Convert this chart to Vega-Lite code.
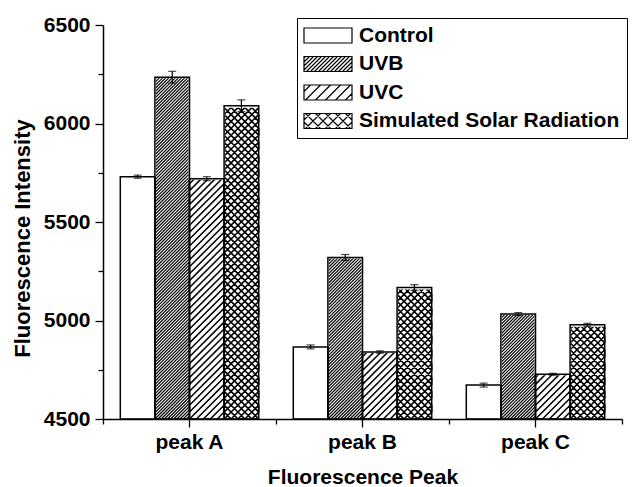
{
  "$schema": "https://vega.github.io/schema/vega-lite/v6.json",
  "width": 519,
  "height": 394,
  "autosize": {"type": "none"},
  "padding": {"left": 103, "top": 25, "right": 11, "bottom": 68},
  "background": "white",
  "config": {
    "view": {"stroke": null},
    "font": "Liberation Sans",
    "axis": {
      "grid": false,
      "labelFont": "Liberation Sans",
      "titleFont": "Liberation Sans",
      "labelFontWeight": "bold",
      "titleFontWeight": "bold",
      "labelColor": "black",
      "titleColor": "black",
      "domainColor": "black",
      "tickColor": "black"
    }
  },
  "data": {
    "values": [
      {"peak": "peak A", "group": "Control", "value": 5730, "lo": 5722, "hi": 5738},
      {"peak": "peak A", "group": "UVB", "value": 6235, "lo": 6205, "hi": 6265},
      {"peak": "peak A", "group": "UVC", "value": 5720, "lo": 5710, "hi": 5730},
      {"peak": "peak A", "group": "Simulated Solar Radiation", "value": 6090, "lo": 6060, "hi": 6120},
      {"peak": "peak B", "group": "Control", "value": 4866, "lo": 4856, "hi": 4876},
      {"peak": "peak B", "group": "UVB", "value": 5320, "lo": 5305, "hi": 5335},
      {"peak": "peak B", "group": "UVC", "value": 4840, "lo": 4834, "hi": 4846},
      {"peak": "peak B", "group": "Simulated Solar Radiation", "value": 5167, "lo": 5152, "hi": 5182},
      {"peak": "peak C", "group": "Control", "value": 4672, "lo": 4662, "hi": 4682},
      {"peak": "peak C", "group": "UVB", "value": 5033, "lo": 5026, "hi": 5040},
      {"peak": "peak C", "group": "UVC", "value": 4727, "lo": 4722, "hi": 4732},
      {"peak": "peak C", "group": "Simulated Solar Radiation", "value": 4978, "lo": 4970, "hi": 4986}
    ]
  },
  "encoding": {
    "x": {"field": "peak", "type": "nominal", "scale": {"domain": ["peak A", "peak B", "peak C"], "paddingInner": 0, "paddingOuter": 0}, "axis": null},
    "xOffset": {"field": "group", "type": "nominal", "scale": {"domain": ["Control", "UVB", "UVC", "Simulated Solar Radiation"], "paddingInner": 0, "paddingOuter": 0.5}}
  },
  "layer": [
    {
      "transform": [{"filter": "datum.group === 'UVB'"}],
      "mark": {"type": "point", "filled": false, "stroke": "black", "strokeWidth": 1.2, "strokeJoin": "bevel", "opacity": 1, "size": 39.5756,
        "shape": "M4.5,0L5.5,-1L5.5,-2L3.5,0L2.5,0L5.5,-3L5.5,-4L1.5,0L0.5,0L5.5,-5L5.5,-6L-0.5,0L-1.5,0L5.5,-7L5.5,-8L-2.5,0L-3.5,0L5.5,-9L5.5,-10L-4.5,0L-5.5,0L5.5,-11L5.5,-12l-11,11l0,-1l11,-11l0,-1l-11,11l0,-1l11,-11l0,-1l-11,11l0,-1l11,-11l0,-1l-11,11l0,-1l11,-11l0,-1l-11,11l0,-1l11,-11l0,-1l-11,11l0,-1l11,-11l0,-1l-11,11l0,-1l11,-11l0,-1l-11,11l0,-1l11,-11l0,-1l-11,11l0,-1l11,-11l0,-1l-11,11l0,-1l11,-11l0,-1l-11,11l0,-1l11,-11l0,-1l-11,11l0,-1l11,-11l0,-1l-11,11l0,-1l11,-11l0,-1l-11,11l0,-1l11,-11l0,-1l-11,11l0,-1l11,-11l0,-1l-11,11l0,-1l11,-11l0,-1l-11,11l0,-1l11,-11l0,-1l-11,11l0,-1l11,-11l0,-1l-11,11l0,-1l11,-11l0,-1l-11,11l0,-1l11,-11l0,-1l-11,11l0,-1l11,-11l0,-1l-11,11l0,-1l11,-11l0,-1l-11,11l0,-1l11,-11l0,-1l-11,11l0,-1l11,-11l0,-1l-11,11l0,-1l11,-11l0,-1l-11,11l0,-1l11,-11l0,-1l-11,11l0,-1l11,-11l0,-1l-11,11l0,-1l11,-11l0,-1l-11,11l0,-1l11,-11l0,-1l-11,11l0,-1l11,-11l0,-1l-11,11l0,-1l11,-11l0,-1l-11,11l0,-1l11,-11l0,-1l-11,11l0,-1l11,-11l0,-1l-11,11l0,-1l11,-11l0,-1l-11,11l0,-1l11,-11l0,-1l-11,11l0,-1l11,-11l0,-1l-11,11l0,-1l11,-11l0,-1l-11,11l0,-1l11,-11l0,-1l-11,11l0,-1l11,-11l0,-1l-11,11l0,-1l11,-11l0,-1l-11,11l0,-1l11,-11l0,-1l-11,11l0,-1l11,-11l0,-1l-11,11l0,-1l11,-11l0,-1l-11,11l0,-1l11,-11l0,-1l-11,11l0,-1l11,-11l0,-1l-11,11l0,-1l11,-11l0,-1l-11,11l0,-1l11,-11l0,-1l-11,11l0,-1l11,-11l0,-1l-11,11l0,-1l11,-11l0,-1l-11,11l0,-1l11,-11l0,-1l-11,11l0,-1l11,-11l0,-1l-11,11l0,-1l11,-11l0,-1l-11,11l0,-1l11,-11l0,-1l-11,11l0,-1l11,-11l0,-1l-11,11l0,-1l11,-11l0,-1l-11,11l0,-1l11,-11l0,-1"},
      "encoding": {"y": {"datum": 4500, "type": "quantitative", "scale": {"domain": [4500, 6500], "nice": false, "zero": false}, "axis": null}}
    },
    {
      "transform": [{"filter": "datum.group === 'UVC'"}],
      "mark": {"type": "point", "filled": false, "stroke": "black", "strokeWidth": 1.5, "strokeJoin": "bevel", "opacity": 1, "size": 191.5456,
        "shape": "M1.5,0L2.5,-1L2.5,-2L0.5,0L-0.5,0L2.5,-3L2.5,-4L-1.5,0L-2.5,0L2.5,-5L2.5,-6l-5,5l0,-1l5,-5l0,-1l-5,5l0,-1l5,-5l0,-1l-5,5l0,-1l5,-5l0,-1l-5,5l0,-1l5,-5l0,-1l-5,5l0,-1l5,-5l0,-1l-5,5l0,-1l5,-5l0,-1l-5,5l0,-1l5,-5l0,-1l-5,5l0,-1l5,-5l0,-1l-5,5l0,-1l5,-5l0,-1l-5,5l0,-1l5,-5l0,-1l-5,5l0,-1l5,-5l0,-1l-5,5l0,-1l5,-5l0,-1l-5,5l0,-1l5,-5l0,-1l-5,5l0,-1l5,-5l0,-1l-5,5l0,-1l5,-5l0,-1l-5,5l0,-1l5,-5l0,-1l-5,5l0,-1l5,-5l0,-1l-5,5l0,-1l5,-5l0,-1l-5,5l0,-1l5,-5l0,-1"},
      "encoding": {"y": {"datum": 4500, "type": "quantitative", "axis": null}}
    },
    {
      "transform": [{"filter": "datum.group === 'Simulated Solar Radiation'"}],
      "mark": {"type": "point", "filled": false, "stroke": "black", "strokeWidth": 1.6, "strokeJoin": "bevel", "opacity": 1, "size": 191.5456,
        "shape": "M1.5,0L2.5,-1L2.5,-2L0.5,0L-0.5,0L2.5,-3L2.5,-4L-1.5,0L-2.5,0L2.5,-5L2.5,-6l-5,5l0,-1l5,-5l0,-1l-5,5l0,-1l5,-5l0,-1l-5,5l0,-1l5,-5l0,-1l-5,5l0,-1l5,-5l0,-1l-5,5l0,-1l5,-5l0,-1l-5,5l0,-1l5,-5l0,-1l-5,5l0,-1l5,-5l0,-1l-5,5l0,-1l5,-5l0,-1l-5,5l0,-1l5,-5l0,-1l-5,5l0,-1l5,-5l0,-1l-5,5l0,-1l5,-5l0,-1l-5,5l0,-1l5,-5l0,-1l-5,5l0,-1l5,-5l0,-1l-5,5l0,-1l5,-5l0,-1l-5,5l0,-1l5,-5l0,-1l-5,5l0,-1l5,-5l0,-1l-5,5l0,-1l5,-5l0,-1l-5,5l0,-1l5,-5l0,-1l-5,5l0,-1l5,-5l0,-1l-5,5l0,-1l5,-5l0,-1l-5,5l0,-1l5,-5l0,-1l-5,5l0,-1l5,-5l0,-1l-5,5l0,-1l5,-5l0,-1l-5,5l0,-1l5,-5l0,-1M-1.5,0L-2.5,-1L-2.5,-2L-0.5,0L0.5,0L-2.5,-3L-2.5,-4L1.5,0L2.5,0L-2.5,-5L-2.5,-6l5,5l0,-1l-5,-5l0,-1l5,5l0,-1l-5,-5l0,-1l5,5l0,-1l-5,-5l0,-1l5,5l0,-1l-5,-5l0,-1l5,5l0,-1l-5,-5l0,-1l5,5l0,-1l-5,-5l0,-1l5,5l0,-1l-5,-5l0,-1l5,5l0,-1l-5,-5l0,-1l5,5l0,-1l-5,-5l0,-1l5,5l0,-1l-5,-5l0,-1l5,5l0,-1l-5,-5l0,-1l5,5l0,-1l-5,-5l0,-1l5,5l0,-1l-5,-5l0,-1l5,5l0,-1l-5,-5l0,-1l5,5l0,-1l-5,-5l0,-1l5,5l0,-1l-5,-5l0,-1l5,5l0,-1l-5,-5l0,-1l5,5l0,-1l-5,-5l0,-1l5,5l0,-1l-5,-5l0,-1l5,5l0,-1l-5,-5l0,-1l5,5l0,-1l-5,-5l0,-1l5,5l0,-1l-5,-5l0,-1l5,5l0,-1l-5,-5l0,-1l5,5l0,-1l-5,-5l0,-1"},
      "encoding": {"y": {"datum": 4500, "type": "quantitative", "axis": null}}
    },
    {
      "mark": {"type": "bar", "fill": "white", "stroke": "white"},
      "encoding": {
        "y": {"field": "value", "type": "quantitative", "axis": null},
        "y2": {"datum": 6500},
        "strokeWidth": {"condition": {"test": "datum.group === 'Simulated Solar Radiation'", "value": 4}, "value": 2}
      }
    },
    {
      "mark": {"type": "bar", "fillOpacity": 0, "stroke": "black", "strokeWidth": 1.5},
      "encoding": {
        "x": {"field": "peak", "type": "nominal", "scale": {"domain": ["peak A", "peak B", "peak C"], "paddingInner": 0, "paddingOuter": 0},
          "axis": {"orient": "bottom", "title": "Fluorescence Peak", "labelAngle": 0, "labelFontSize": 21, "titleFontSize": 21, "tickSize": 8, "tickWidth": 1.3, "domainWidth": 1.5, "labelPadding": 4, "titlePadding": 14}},
        "y": {"field": "value", "type": "quantitative", "scale": {"domain": [4500, 6500], "nice": false, "zero": false},
          "axis": {"orient": "left", "title": "Fluorescence Intensity", "values": [4500, 5000, 5500, 6000, 6500], "format": "d", "labelFontSize": 21, "titleFontSize": 22, "tickSize": 8, "tickWidth": 1.3, "domainWidth": 1.5, "labelPadding": 5, "titlePadding": 9, "titleY": 213}},
        "y2": {"datum": 4500}
      }
    },
    {
      "mark": {"type": "rule", "stroke": "black", "strokeWidth": 1.2},
      "encoding": {
        "x": {"field": "peak", "type": "nominal",
          "axis": {"orient": "bottom", "title": null, "labels": false, "domain": false, "tickBand": "extent", "tickSize": 5, "tickWidth": 1.3}},
        "y": {"field": "lo", "type": "quantitative",
          "axis": {"orient": "left", "title": null, "labels": false, "domain": false, "values": [4750, 5250, 5750, 6250], "tickSize": 5, "tickWidth": 1.3}},
        "y2": {"field": "hi"}
      }
    },
    {
      "mark": {"type": "tick", "color": "black", "size": 8, "thickness": 1.2},
      "encoding": {"y": {"field": "lo", "type": "quantitative", "axis": null}}
    },
    {
      "mark": {"type": "tick", "color": "black", "size": 8, "thickness": 1.2},
      "encoding": {"y": {"field": "hi", "type": "quantitative", "axis": null}}
    },
    {
      "mark": {"type": "point", "filled": false, "color": "black", "opacity": 0},
      "encoding": {
        "y": {"field": "value", "type": "quantitative", "axis": null},
        "shape": {"field": "group", "type": "nominal",
          "scale": {"domain": ["Control", "UVB", "UVC", "Simulated Solar Radiation"],
            "range": [
              "M-1.3125,-0.9375H4.6875V0.9375H-1.3125Z",
              "M-1.3125,-0.9375H4.6875V0.9375H-1.3125ZM-1.3125,-0.75L-1.125,-0.9375M-1.3125,-0.25L-0.625,-0.9375M-1.3125,0.25L-0.125,-0.9375M-1.3125,0.75L0.375,-0.9375M-1,0.9375L0.875,-0.9375M-0.5,0.9375L1.375,-0.9375M0,0.9375L1.875,-0.9375M0.5,0.9375L2.375,-0.9375M1,0.9375L2.875,-0.9375M1.5,0.9375L3.375,-0.9375M2,0.9375L3.875,-0.9375M2.5,0.9375L4.375,-0.9375M3,0.9375L4.6875,-0.75M3.5,0.9375L4.6875,-0.25M4,0.9375L4.6875,0.25M4.5,0.9375L4.6875,0.75",
              "M-1.3125,-0.9375H4.6875V0.9375H-1.3125ZM-1.3125,-0.125L-0.5,-0.9375M-1.125,0.9375L0.75,-0.9375M0.125,0.9375L2,-0.9375M1.375,0.9375L3.25,-0.9375M2.625,0.9375L4.5,-0.9375M3.875,0.9375L4.6875,0.125",
              "M-1.3125,-0.9375H4.6875V0.9375H-1.3125ZM-1.3125,-0.125L-0.5,-0.9375M-1.125,0.9375L0.75,-0.9375M0.125,0.9375L2,-0.9375M1.375,0.9375L3.25,-0.9375M2.625,0.9375L4.5,-0.9375M3.875,0.9375L4.6875,0.125M4.6875,-0.125L3.875,-0.9375M4.5,0.9375L2.625,-0.9375M3.25,0.9375L1.375,-0.9375M2,0.9375L0.125,-0.9375M0.75,0.9375L-1.125,-0.9375M-0.5,0.9375L-1.3125,0.125"
            ]},
          "legend": {"title": null, "orient": "none", "legendX": 194, "legendY": -7, "fillColor": "white", "strokeColor": "black", "padding": 7, "symbolSize": 256, "symbolStrokeWidth": 1.2, "symbolStrokeColor": "black", "symbolOpacity": 1, "labelFont": "Liberation Sans", "labelFontSize": 21, "labelFontWeight": "bold", "labelColor": "black", "labelOffset": 34, "labelLimit": 400, "rowPadding": 6.5}}
      }
    }
  ],
  "resolve": {"axis": {"x": "independent", "y": "independent"}}
}
